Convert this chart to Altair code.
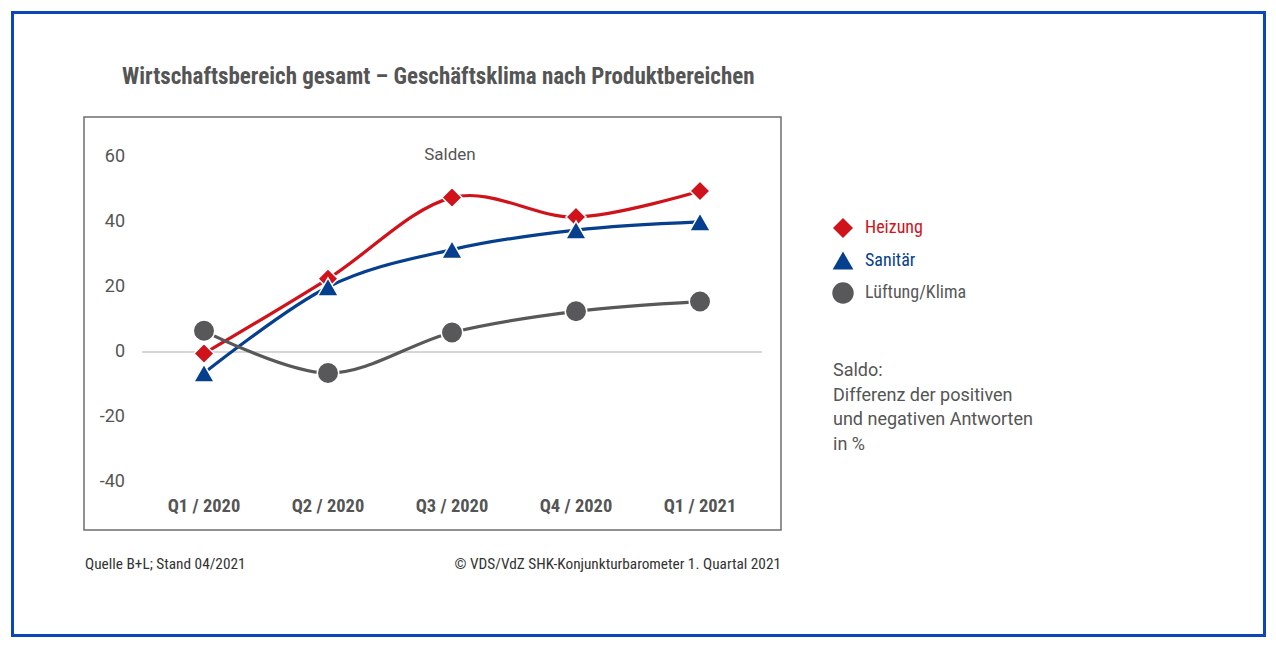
import altair as alt
import pandas as pd

quarters = ["Q1 / 2020", "Q2 / 2020", "Q3 / 2020", "Q4 / 2020", "Q1 / 2021"]
series = ["Heizung", "Sanitär", "Lüftung/Klima"]
heizung = [-0.5, 22.5, 47.5, 41.5, 49.5]
sanitaer = [-6.5, 20, 31.5, 37.5, 40]
lueftung = [6.5, -6.5, 6, 12.5, 15.5]
y_ticks = [60, 40, 20, 0, -20, -40]
y_tick_labels = ["60", "40", "20", "0", "-20", "-40"]
colors = ["#d0121b", "#063f8e", "#58585a"]
shapes = ["diamond", "triangle-up", "circle"]

rows = []
for name, vals in zip(series, [heizung, sanitaer, lueftung]):
    for q, v in zip(quarters, vals):
        rows.append({"Quartal": q, "Reihe": name, "Saldo": v, "ord": series.index(name)})
df = pd.DataFrame(rows)

COND = "Liberation Sans Narrow, Roboto Condensed, Roboto"
REG = "Roboto"

W, H = 697, 413
xs = alt.X("Quartal:N", sort=quarters, axis=None,
           scale=alt.Scale(type="point", domain=quarters, range=[120, 616], padding=0))
ysc = alt.Scale(domain=[-54.8, 72.3], nice=False, zero=False)

color_scale = alt.Scale(domain=series, range=colors)
shape_scale = alt.Scale(domain=series, range=shapes)
size_scale = alt.Scale(domain=series, range=[400, 460, 250])

base = alt.Chart(df)

zero_line = alt.Chart(pd.DataFrame({"v": [0]})).mark_rule(
    color="#c8c8c8", strokeWidth=1.5
).encode(y=alt.Y("v:Q", scale=ysc, axis=None), x=alt.value(58), x2=alt.value(678))

lines = base.mark_line(interpolate="cardinal", strokeWidth=3.2).encode(
    x=xs,
    y=alt.Y("Saldo:Q", scale=ysc, axis=None),
    color=alt.Color("Reihe:N", scale=color_scale, legend=None),
    detail="Reihe:N",
)

points = base.mark_point(filled=True, opacity=1, stroke="white", strokeWidth=1.5).encode(
    x=xs,
    y=alt.Y("Saldo:Q", scale=ysc, axis=None),
    color=alt.Color("Reihe:N", scale=color_scale, legend=None),
    shape=alt.Shape("Reihe:N", scale=shape_scale, legend=None),
    size=alt.Size("Reihe:N", scale=size_scale, legend=None),
    order=alt.Order("ord:Q"),
)

ylabels = alt.Chart(pd.DataFrame({"t": y_ticks, "lab": y_tick_labels})).mark_text(
    align="right", baseline="middle", font=REG, fontSize=18, color="#555555"
).encode(y=alt.Y("t:Q", scale=ysc, axis=None), x=alt.value(41), text="lab:N")

xlabels = alt.Chart(pd.DataFrame({"Quartal": quarters})).mark_text(
    align="center", baseline="middle", font=COND, fontSize=18.5, fontWeight="bold", color="#555555"
).encode(x=xs, y=alt.value(389), text="Quartal:N")

# legend (manual)
leg_df = pd.DataFrame({"Reihe": series})
leg_y = alt.Y("Reihe:N", sort=series, axis=None,
              scale=alt.Scale(type="point", domain=series, range=[111, 176], padding=0))
leg_sym = alt.Chart(leg_df).mark_point(filled=True, opacity=1, strokeWidth=0).encode(
    x=alt.value(759), y=leg_y,
    color=alt.Color("Reihe:N", scale=color_scale, legend=None),
    shape=alt.Shape("Reihe:N", scale=shape_scale, legend=None),
    size=alt.Size("Reihe:N", scale=alt.Scale(domain=series, range=[380, 560, 230]), legend=None),
)
leg_txt = alt.Chart(leg_df).mark_text(
    align="left", baseline="middle", font=COND, fontSize=18
).encode(
    x=alt.value(781), y=leg_y, text="Reihe:N",
    color=alt.Color("Reihe:N", scale=color_scale, legend=None),
)

def txt(s, x, y, **kw):
    return alt.Chart(pd.DataFrame({"s": [s]})).mark_text(**kw).encode(
        x=alt.value(x), y=alt.value(y), text="s:N")

title = txt("Wirtschaftsbereich gesamt – Geschäftsklima nach Produktbereichen", 38, -40,
            align="left", baseline="middle", font=COND, fontSize=23, fontWeight="bold", color="#555555")
salden = txt("Salden", 366, 38, align="center", baseline="middle", font=REG, fontSize=17, color="#555555")
saldo = alt.Chart(pd.DataFrame({"s": ["Saldo:\nDifferenz der positiven\nund negativen Antworten\nin %"]})).mark_text(
    align="left", baseline="top", font=REG, fontSize=18, color="#555555", lineBreak="\n", lineHeight=24.5
).encode(x=alt.value(749), y=alt.value(245), text="s:N")
foot1 = txt("Quelle B+L; Stand 04/2021", 1, 447, align="left", baseline="middle", font=COND, fontSize=15.3, color="#333333")
foot2 = txt("© VDS/VdZ SHK-Konjunkturbarometer 1. Quartal 2021", 697, 447, align="right", baseline="middle",
            font=COND, fontSize=15.3, color="#333333")

border = alt.Chart(pd.DataFrame({"a": [0]})).mark_rect(
    filled=False, stroke="#0b47b8", strokeWidth=3
).encode(x=alt.value(12.5 - 84), x2=alt.value(1264.5 - 84), y=alt.value(12.5 - 117), y2=alt.value(635.5 - 117))

chart = alt.layer(
    border, zero_line, lines, points, ylabels, xlabels, leg_sym, leg_txt, title, salden, saldo, foot1, foot2
).resolve_scale(y="independent").properties(
    width=W, height=H,
    padding={"left": 84, "top": 117, "right": 1276 - 84 - W, "bottom": 648 - 117 - H},
    autosize="none", background="white",
).configure_view(stroke="#6e6e6e", strokeWidth=1.5)

chart.save("out.html", embed_options={"renderer": "svg", "actions": False})
